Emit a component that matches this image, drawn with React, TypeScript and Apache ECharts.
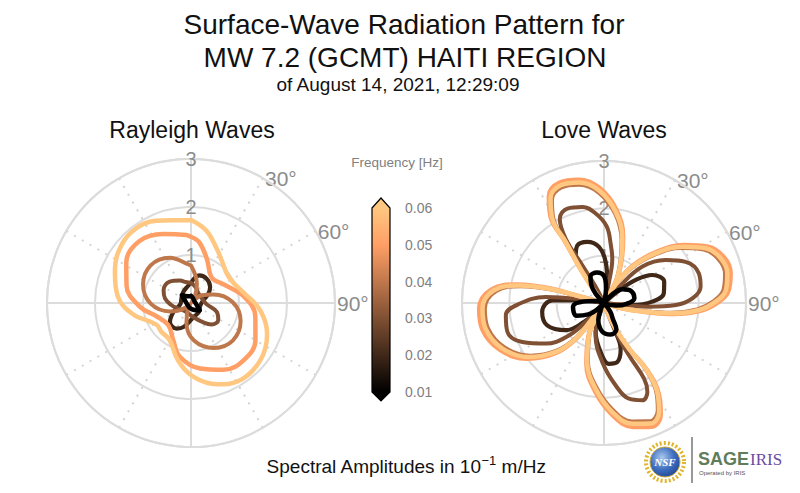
import React, { useEffect, useRef } from "react";
import * as echarts from "echarts";

// ---------------- data ----------------
const FREQUENCIES = [0.01, 0.02, 0.03, 0.04, 0.05, 0.06];
const COLORBAR_TICKS = [0.01, 0.02, 0.03, 0.04, 0.05, 0.06];
const RADIUS_TICKS = [1, 2, 3];
const ANGLE_TICK_LABELS = [30, 60, 90];

// Rayleigh waves: [azimuth deg (clockwise from N), amplitude]
const rayleigh001 = [[0,0.15],[30,0.1],[60,0.08],[95,0.1],[130,0.24],[160,0.15],[200,0.1],[240,0.08],[275,0.1],[310,0.25],[340,0.15],[360,0.15]];
const rayleigh002 = [[0,0.42],[17,0.6],[33,0.6],[50,0.52],[62,0.41],[80,0.25],[110,0.2],[140,0.25],[170,0.3],[197,0.52],[209,0.61],[228,0.59],[243,0.41],[265,0.22],[295,0.22],[325,0.28],[350,0.36],[360,0.42]];
const rayleigh003 = [[0,0.42],[15,0.35],[40,0.25],[70,0.25],[95,0.33],[109,0.57],[122,0.67],[136,0.62],[150,0.45],[170,0.3],[200,0.22],[225,0.22],[246,0.29],[265,0.42],[280,0.55],[295,0.63],[315,0.63],[334,0.52],[346,0.45],[360,0.42]];
const rayleigh004 = [[0,0.78],[17,0.42],[32,0.15],[40,0.02],[55,0.28],[69,0.5],[89,0.87],[110,1.1],[132,1.17],[153,1.05],[175,0.79],[193,0.42],[210,0.12],[220,0.02],[235,0.25],[248,0.47],[269,0.84],[291,1.07],[313,1.15],[335,1.04],[357,0.8],[360,0.78]];
const rayleigh005 = [[0,1.38],[8,1.27],[20,0.97],[40,0.68],[60,0.78],[83,1.11],[102,1.37],[120,1.55],[137,1.62],[154,1.55],[172,1.38],[192,1.14],[206,0.85],[226,0.66],[249,0.77],[266,1.07],[285,1.39],[302,1.59],[320,1.68],[338,1.55],[356,1.42],[360,1.38]];
const rayleigh006 = [[0,1.73],[12,1.54],[26,1.24],[36,1.09],[52,0.96],[65,0.98],[79,1.12],[96,1.45],[112,1.71],[129,1.87],[147,1.91],[162,1.78],[178,1.54],[193,1.22],[210,0.89],[226,0.86],[238,0.85],[259,1.23],[275,1.53],[292,1.71],[305,1.85],[321,1.93],[337,1.86],[360,1.73]];

// Love waves: traced outline, [azimuth deg, amplitude]
const love001 = [[315,0],[318,0.26],[325,0.47],[333,0.63],[347,0.66],[0,0.57],[8,0.32],[30,0],[44,0.27],[54,0.49],[67,0.63],[81,0.65],[92,0.48],[102,0.26],[125,0],[144,0.22],[151,0.39],[155,0.62],[168,0.68],[184,0.6],[199,0.37],[207,0.16],[220,0],[227,0.22],[234,0.41],[245,0.64],[263,0.66],[274,0.44],[282,0.21],[315,0]];
const love002 = [[320,0],[330,0.35],[329.4,0.76],[329.3,1.17],[335.2,1.34],[344.7,1.34],[354.9,1.19],[2.3,0.87],[9,0.45],[30,0],[50,0.38],[54,0.83],[59.9,1.18],[70.4,1.35],[80.8,1.28],[88.4,1.02],[94,0.6],[97,0.28],[130,0],[155,0.3],[158.1,0.66],[160,1.03],[167.3,1.28],[175.3,1.29],[183.9,1.04],[196,0.64],[200,0.3],[215,0],[222,0.28],[226.5,0.58],[234.5,0.99],[248.5,1.29],[261.7,1.32],[273,1.09],[275.4,0.6],[278,0.28],[320,0]];
const love003 = [[320,0],[333,0.4],[330.1,0.92],[329.2,1.58],[332.3,2.01],[338.8,2.14],[347.3,2.08],[354.7,1.9],[2,1.62],[6.5,1.25],[10.6,0.95],[13.4,0.46],[25,0],[42.6,0.47],[46.5,1.12],[55.1,1.59],[63.2,1.93],[72.7,2.1],[80.4,2.07],[87,1.87],[91.6,1.52],[94.7,0.95],[95.3,0.46],[130,0],[158.1,0.66],[154.5,1.23],[152.1,1.81],[154,2.09],[158.5,2.21],[165.4,2.09],[171.9,1.76],[181.6,1.25],[194.5,0.71],[202,0.28],[215,0],[224,0.56],[227.3,1.01],[235.1,1.5],[244.5,1.91],[253.3,2.13],[262.9,2.09],[269.3,1.8],[275.9,1.24],[278.7,0.61],[320,0]];
const love004 = [[305,0],[319,0.2],[325.3,0.78],[328.2,1.49],[328.8,2.05],[333.1,2.43],[339.8,2.6],[348.2,2.55],[357.4,2.33],[7.1,1.9],[15.6,1.38],[21.8,0.92],[28.7,0.5],[31,0],[32.3,0.44],[38.3,0.95],[46.4,1.48],[54.5,2.0],[61.8,2.39],[69,2.59],[76.4,2.63],[83.7,2.54],[89.1,2.31],[93.9,1.97],[98.3,1.43],[101.4,0.88],[105.7,0.39],[130,0],[163.6,0.12],[155.8,0.59],[151.6,1.08],[147.9,1.61],[149.3,2.15],[153.3,2.53],[158.9,2.68],[166.7,2.57],[175.4,2.26],[185.3,1.78],[195.5,1.27],[204.6,0.74],[208.1,0.29],[212,0],[217,0.4],[218.8,0.94],[224.9,1.42],[234.4,1.91],[245.9,2.3],[257.8,2.51],[267.2,2.52],[276.4,2.29],[281.4,1.79],[284.3,1.18],[284.8,0.61],[305,0]];
const love005 = [[305,0],[319,0.22],[325,0.82],[327.6,1.56],[328.2,2.14],[332.7,2.54],[339.8,2.71],[348.4,2.66],[357.6,2.44],[7.5,1.99],[16.2,1.45],[22.4,0.97],[29.3,0.53],[31,0],[32,0.47],[37.7,1.0],[45.8,1.55],[54.1,2.09],[61.6,2.5],[69,2.71],[76.6,2.75],[84.1,2.65],[89.5,2.42],[94.5,2.06],[98.9,1.5],[102,0.93],[106.3,0.42],[130,0],[163.6,0.13],[155.4,0.62],[151,1.13],[147.3,1.68],[148.9,2.24],[153.1,2.65],[158.9,2.8],[166.9,2.69],[175.8,2.37],[185.9,1.87],[196.1,1.34],[205.2,0.77],[208.7,0.31],[212,0],[216.4,0.42],[218.2,0.99],[224.3,1.49],[234,2.0],[245.7,2.41],[257.8,2.63],[267.4,2.64],[276.8,2.4],[282,1.88],[284.9,1.23],[285.4,0.64],[305,0]];
const love006 = [[305,0],[319,0.21],[325,0.8],[327.9,1.52],[328.5,2.09],[332.9,2.48],[339.8,2.65],[348.3,2.6],[357.5,2.38],[7.3,1.94],[15.9,1.41],[22.1,0.94],[29,0.51],[31,0],[32,0.45],[38,0.97],[46.1,1.51],[54.3,2.04],[61.7,2.44],[69,2.64],[76.5,2.68],[83.9,2.59],[89.3,2.36],[94.2,2.01],[98.6,1.46],[101.7,0.9],[106,0.4],[130,0],[163.6,0.12],[155.6,0.6],[151.3,1.1],[147.6,1.64],[149.1,2.19],[153.2,2.58],[158.9,2.73],[166.8,2.62],[175.6,2.31],[185.6,1.82],[195.8,1.3],[204.9,0.75],[208.4,0.3],[212,0],[216.7,0.41],[218.5,0.96],[224.6,1.45],[234.2,1.95],[245.8,2.35],[257.8,2.56],[267.3,2.57],[276.6,2.34],[281.7,1.83],[284.6,1.2],[285.1,0.62],[305,0]];

const RAYLEIGH = [rayleigh001, rayleigh002, rayleigh003, rayleigh004, rayleigh005, rayleigh006];
const LOVE = [love001, love002, love003, love004, love005, love006];
const LINE_WIDTHS = [4.5, 4.2, 4, 4, 4.5, 4.5];
const Z_ORDER = [9, 4, 5, 6, 7, 8];

// ---------------- styling ----------------
const FONT = '"Liberation Sans", Arial, Helvetica, sans-serif';
const GRID = "#dcdcdc";
const LABEL = "#8c8c8c";

function copper(t: number): string {
  const r = Math.min(1, 1.25 * t);
  const g = 0.7812 * t;
  const b = 0.4975 * t;
  return `rgb(${Math.round(r * 255)},${Math.round(g * 255)},${Math.round(b * 255)})`;
}
const fMin = FREQUENCIES[0];
const fMax = FREQUENCIES[FREQUENCIES.length - 1];
const freqT = (f: number) => (f - fMin) / (fMax - fMin);

export default function App() {
  const ref = useRef<HTMLDivElement>(null);

  useEffect(() => {
    if (!ref.current) return;
    const chart = echarts.init(ref.current, null, { renderer: "svg" });

    const polarDefs = [
      { center: [191, 303], radius: 144 },
      { center: [604, 303], radius: 142 },
    ];
    const polar: any[] = [];
    const angleAxis: any[] = [];
    const radiusAxis: any[] = [];
    polarDefs.forEach((p, k) => {
      polar.push({ center: p.center, radius: p.radius });
      angleAxis.push({
        polarIndex: 2 * k, type: "value", min: 0, max: 360, interval: 30,
        startAngle: 90, clockwise: true,
        axisLine: { show: false }, axisTick: { show: false }, axisLabel: { show: false },
        splitLine: { show: true, lineStyle: { color: "#d2d2d2", width: 2, type: [2, 7] } },
      });
      radiusAxis.push({
        polarIndex: 2 * k, type: "value", min: 0, max: 3, interval: 1,
        axisLine: { show: false }, axisTick: { show: false }, axisLabel: { show: false },
        splitLine: { show: false },
      });
      polar.push({ center: p.center, radius: p.radius });
      angleAxis.push({
        polarIndex: 2 * k + 1, type: "value", min: 0, max: 360, interval: 90,
        startAngle: 90, clockwise: true,
        axisLine: { show: true, lineStyle: { color: GRID, width: 2 } },
        axisTick: { show: false }, axisLabel: { show: false },
        splitLine: { show: true, lineStyle: { color: GRID, width: 2 } },
      });
      radiusAxis.push({
        polarIndex: 2 * k + 1, type: "value", min: 0, max: 3, interval: 1,
        axisLine: { show: false }, axisTick: { show: false },
        axisLabel: {
          show: true, margin: 0, align: "center", verticalAlign: "middle",
          color: LABEL, fontSize: 20, fontFamily: FONT,
          formatter: (v: number) => (RADIUS_TICKS.indexOf(v) >= 0 ? String(v) : ""),
        },
        splitLine: { show: true, lineStyle: { color: GRID, width: 2 } },
      });
    });

    const series: any[] = [];
    [RAYLEIGH, LOVE].forEach((set, k) => {
      set.forEach((curve, i) => {
        series.push({
          type: "line",
          coordinateSystem: "polar",
          polarIndex: 2 * k + 1,
          data: curve.map(([a, r]) => [r, a]),
          smooth: 0.4,
          symbol: "none",
          silent: true,
          lineStyle: { color: copper(freqT(FREQUENCIES[i])), width: LINE_WIDTHS[i], cap: "round", join: "round" },
          z: Z_ORDER[i],
        });
      });
    });

    // colour bar
    series.push({
      type: "custom",
      xAxisIndex: 0,
      yAxisIndex: 0,
      clip: false,
      silent: true,
      data: [[0, COLORBAR_TICKS[0]]],
      renderItem: (_params: any, api: any) => {
        const lo = api.coord([0, COLORBAR_TICKS[0]]);
        const hi = api.coord([1, COLORBAR_TICKS[COLORBAR_TICKS.length - 1]]);
        const x0 = lo[0], x1 = hi[0], yb = lo[1], yt = hi[1], xm = (x0 + x1) / 2;
        const tipT = 10, tipB = 9;
        const H = yb + tipB - (yt - tipT);
        const o1 = tipT / H;
        const o0 = (H - tipB) / H;
        return {
          type: "polygon",
          shape: { points: [[x0, yt], [xm, yt - tipT], [x1, yt], [x1, yb], [xm, yb + tipB], [x0, yb]] },
          style: {
            fill: new echarts.graphic.LinearGradient(0, 0, 0, 1, [
              { offset: 0, color: copper(1) },
              { offset: o1, color: copper(1) },
              { offset: o1 + (o0 - o1) * 0.2, color: copper(0.8) },
              { offset: o0, color: copper(0) },
              { offset: 1, color: copper(0) },
            ]),
            stroke: "#000",
            lineWidth: 1.2,
          },
        };
      },
    });

    const texts: any[] = [
      { type: "text", x: 404, y: 24, style: { text: "Surface-Wave Radiation Pattern for", align: "center", verticalAlign: "middle", fontSize: 28, fontFamily: FONT, fill: "#111" } },
      { type: "text", x: 405, y: 57, style: { text: "MW 7.2 (GCMT) HAITI REGION", align: "center", verticalAlign: "middle", fontSize: 28, fontFamily: FONT, fill: "#111" } },
      { type: "text", x: 398, y: 84, style: { text: "of August 14, 2021, 12:29:09", align: "center", verticalAlign: "middle", fontSize: 19, fontFamily: FONT, fill: "#111" } },
      { type: "text", x: 192, y: 130, style: { text: "Rayleigh Waves", align: "center", verticalAlign: "middle", fontSize: 23, fontFamily: FONT, fill: "#111" } },
      { type: "text", x: 604, y: 130, style: { text: "Love Waves", align: "center", verticalAlign: "middle", fontSize: 23, fontFamily: FONT, fill: "#111" } },
      { type: "text", x: 397, y: 162, style: { text: "Frequency [Hz]", align: "center", verticalAlign: "middle", fontSize: 13.5, fontFamily: FONT, fill: "#808080" } },
      {
        type: "text", x: 406, y: 466,
        style: {
          text: "{a|Spectral Amplitudes in 10}{s|\u22121}{a| m/Hz}",
          align: "center", verticalAlign: "middle",
          rich: {
            a: { fontSize: 19, fontFamily: FONT, fill: "#111", lineHeight: 25 },
            s: { fontSize: 13, fontFamily: FONT, fill: "#111", verticalAlign: "top", lineHeight: 15 },
          },
        },
      },
    ];

    const logo: any[] = [
      { type: "circle", shape: { cx: 665, cy: 462, r: 19 }, style: { fill: "none", stroke: "#e0b52c", lineWidth: 4, lineDash: [2, 2] } },
      {
        type: "circle", shape: { cx: 665, cy: 462, r: 15 },
        style: {
          fill: new echarts.graphic.RadialGradient(0.4, 0.35, 0.8, [
            { offset: 0, color: "#a9c8ee" },
            { offset: 0.5, color: "#3f6fc0" },
            { offset: 1, color: "#173a86" },
          ]),
          stroke: "#c9a33a", lineWidth: 1,
        },
      },
      { type: "text", x: 665, y: 462, style: { text: "NSF", align: "center", verticalAlign: "middle", fontSize: 11, fontWeight: "bold", fontStyle: "italic", fontFamily: '"Liberation Serif", "DejaVu Serif", serif', fill: "#ffffff" } },
      { type: "line", shape: { x1: 692, y1: 437, x2: 692, y2: 483 }, style: { stroke: "#333", lineWidth: 1 } },
      { type: "text", x: 698, y: 459, style: { text: "SAGE", align: "left", verticalAlign: "middle", fontSize: 18, fontWeight: "bold", fontFamily: FONT, fill: "#5f7c5b" } },
      { type: "text", x: 750, y: 459, style: { text: "IRIS", align: "left", verticalAlign: "middle", fontSize: 17, fontFamily: '"Liberation Serif", "DejaVu Serif", serif', fill: "#6b4c9e" } },
      { type: "text", x: 699, y: 473, style: { text: "Operated by IRIS", align: "left", verticalAlign: "middle", fontSize: 6, fontFamily: FONT, fill: "#555" } },
    ];

    const option: any = {
      animation: false,
      backgroundColor: "#ffffff",
      polar,
      angleAxis,
      radiusAxis,
      grid: [{ left: 372, top: 208, width: 18, height: 184 }],
      xAxis: [{ gridIndex: 0, type: "value", min: 0, max: 1, show: false }],
      yAxis: [{
        gridIndex: 0, type: "value", position: "right",
        min: COLORBAR_TICKS[0], max: COLORBAR_TICKS[COLORBAR_TICKS.length - 1], interval: 0.01,
        axisLine: { show: false },
        axisTick: { show: true, length: 8, lineStyle: { color: "#555", width: 1 } },
        axisLabel: { margin: 15, color: "#808080", fontSize: 14, fontFamily: FONT, formatter: (v: number) => v.toFixed(2) },
        splitLine: { show: false },
      }],
      series,
      graphic: { elements: [...texts, ...logo] },
    };
    chart.setOption(option);

    // angle tick labels placed from the polar coordinate systems
    const angleLabels: any[] = [];
    [0, 6].forEach((seriesIndex) => {
      ANGLE_TICK_LABELS.forEach((a) => {
        const p = chart.convertToPixel({ seriesIndex } as any, [3, a]) as number[];
        if (p && isFinite(p[0])) {
          angleLabels.push({
            type: "text", x: p[0] + 2, y: p[1],
            style: { text: a + "\u00b0", align: "left", verticalAlign: "middle", fontSize: 21, fontFamily: FONT, fill: LABEL },
          });
        }
      });
    });
    chart.setOption({ graphic: { elements: [...texts, ...logo, ...angleLabels] } });

    return () => chart.dispose();
  }, []);

  return (
    <div
      ref={ref}
      style={{ position: "fixed", left: 0, top: 0, width: 800, height: 493, background: "#fff" }}
    />
  );
}
